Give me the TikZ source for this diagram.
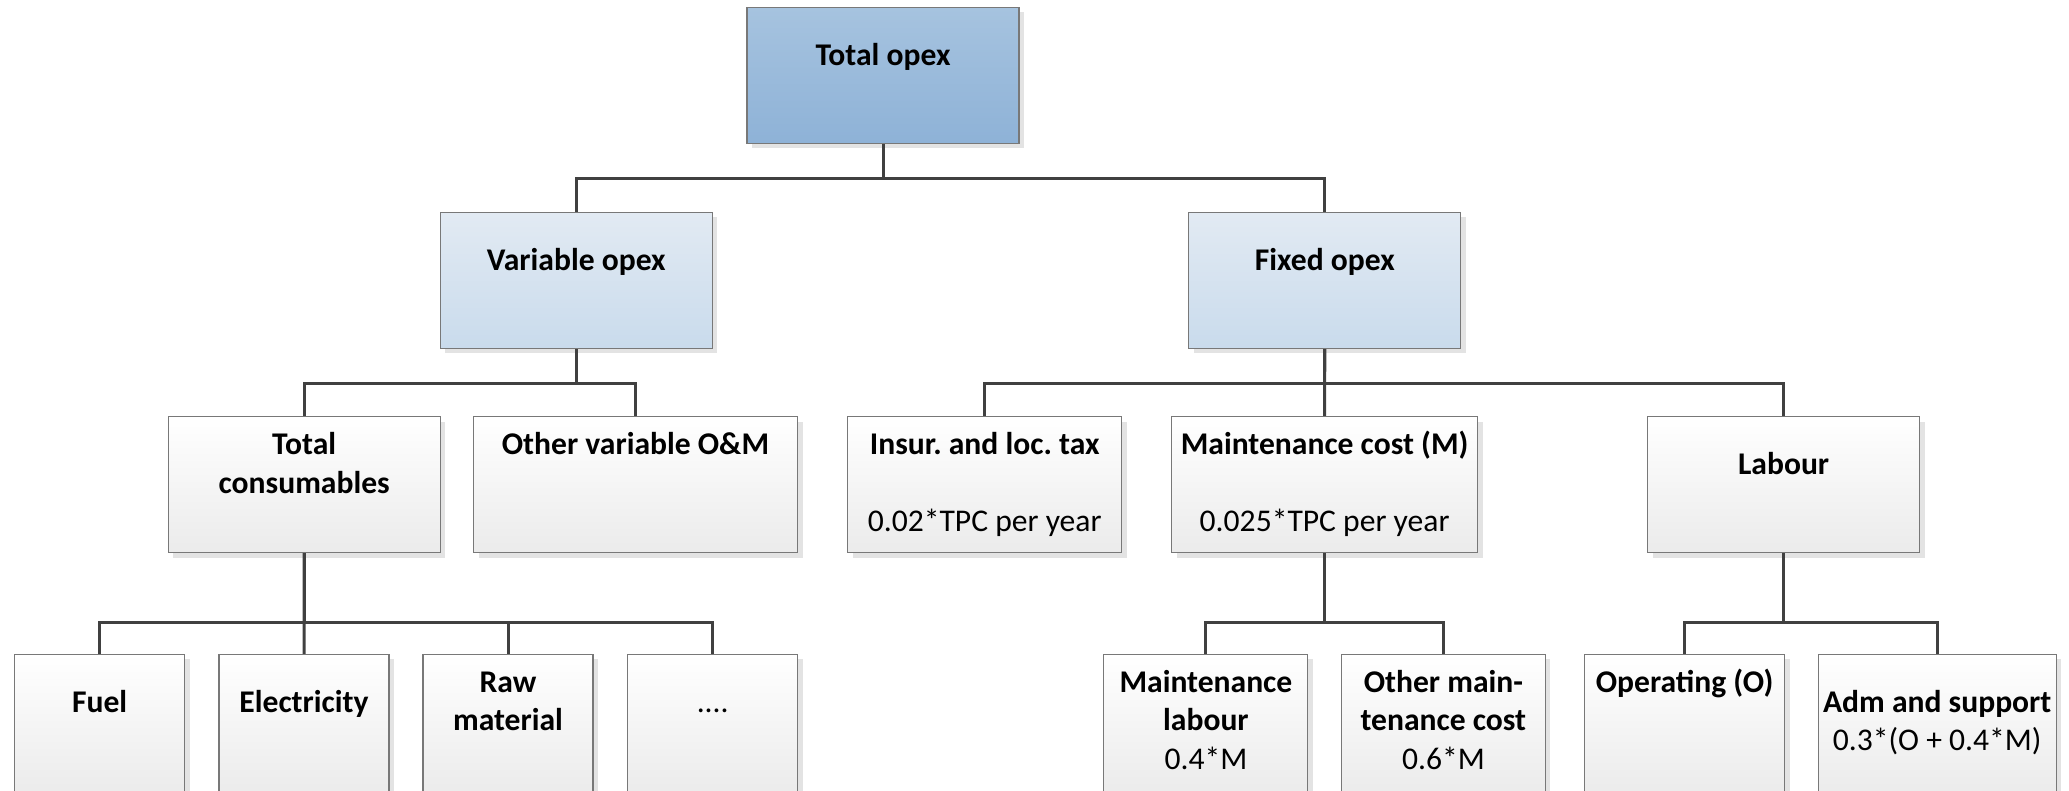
\documentclass[tikz,border=0pt]{standalone}
\usepackage{fontspec}
\setmainfont{Carlito}
\usepackage{tikz}
\usetikzlibrary{shadows}
\definecolor{linkgray}{RGB}{64,64,64}
\definecolor{framegray}{RGB}{120,120,120}
\definecolor{topA}{RGB}{166,195,223}
\definecolor{topB}{RGB}{142,178,215}
\definecolor{subA}{RGB}{226,234,243}
\definecolor{subB}{RGB}{201,219,236}
\definecolor{itemB}{RGB}{235,235,235}
\tikzset{
  opx/.style={x=1pt, y=-1pt, font=\fontsize{31.6}{38.5}\selectfont\bfseries\frenchspacing},
  o box/.style={draw=framegray, line width=1.1pt, align=center, inner xsep=0pt, inner ysep=0pt,
                minimum width=272pt, text height=58pt, text depth=78pt,
                drop shadow={shadow xshift=5pt, shadow yshift=-5pt, fill=black!11, opacity=1}},
  o top/.style={o box, top color=topA, bottom color=topB},
  o sub/.style={o box, top color=subA, bottom color=subB},
  o item/.style={o box, top color=white, bottom color=itemB},
  o leaf/.style={o item, minimum width=170pt, text depth=82pt},
  % last baseline below the top edge, rest of the box below it
  o base/.style 2 args={text height=#1pt, text depth=#2pt},
  o link/.style={draw=linkgray, line width=3pt},
}

\begin{document}
\begin{tikzpicture}[opx]
\useasboundingbox (0, 0) rectangle (2069, 791);
% ---- level 1 ----
\node[o top] (t0) at (883, 75.5) {Total opex};
% ---- level 2 ----
\node[o sub] (v0) at (576.3, 280.5) {Variable opex};
\node[o sub] (f0) at (1324.8, 280.5) {Fixed opex};
\draw[o link] (t0.south) -- ++(0, 34) -| (v0.north); \draw[o link] (t0.south) -- ++(0, 34) -| (f0.north);
% ---- level 3, variable ----
\node[o item, o base={76.5}{59.5}] (v1) at (304.2, 484.5) {Total\\consumables};
\node[o item, o base={38}{98}, minimum width=324pt] (v2) at (635.5, 484.5) {Other variable O\&M};
\draw[o link] (v0.south) -- ++(0, 34) -| (v1.north); \draw[o link] (v0.south) -- ++(0, 34) -| (v2.north);
% ---- level 3, fixed ----
\node[o item, o base={115}{21}, minimum width=274pt] (f1) at (984.7, 484.5) {Insur. and loc. tax\\[38.5pt]{\mdseries 0.02*TPC per year}};
\node[o item, o base={115}{21}, minimum width=306pt] (f2) at (1324.6, 484.5) {Maintenance cost (M)\\[38.5pt]{\mdseries 0.025*TPC per year}};
\node[o item] (f3) at (1783.6, 484.5) {Labour};
\draw[o link] (f0.south) -- ++(0, 34) -| (f1.north); \draw[o link] (f0.south) -- (f2.north); \draw[o link] (f0.south) -- ++(0, 34) -| (f3.north);
% ---- level 4, consumables ----
\node[o leaf] (c1) at (99.6, 724.3) {Fuel};
\node[o leaf] (c2) at (304, 724.3) {Electricity};
\node[o leaf, o base={76.5}{63.5}] (c3) at (508, 724.3) {Raw\\material};
\node[o leaf] (c4) at (712.7, 724.3) {{\mdseries ....}};
\draw[o link] (v1.south) -- ++(0, 69) -| (c1.north); \draw[o link] (v1.south) -- (c2.north);
\draw[o link] (v1.south) -- ++(0, 69) -| (c3.north); \draw[o link] (v1.south) -- ++(0, 69) -| (c4.north);
% ---- level 4, maintenance ----
\node[o leaf, o base={115}{25}, minimum width=204pt] (m1) at (1205.9, 724.3) {Maintenance\\labour\\{\mdseries 0.4*M}};
\node[o leaf, o base={115}{25}, minimum width=204pt] (m2) at (1443.4, 724.3) {Other main-\\tenance cost\\{\mdseries 0.6*M}};
\draw[o link] (f2.south) -- ++(0, 69) -| (m1.north); \draw[o link] (f2.south) -- ++(0, 69) -| (m2.north);
% ---- level 4, labour ----
\node[o leaf, o base={38}{102}, minimum width=200pt] (l1) at (1684.7, 724.3) {Operating (O)};
\node[o leaf, o base={96.5}{43.5}, minimum width=238pt] (l2) at (1937.2, 724.3) {Adm and support\\{\mdseries 0.3*(O + 0.4*M)}};
\draw[o link] (f3.south) -- ++(0, 69) -| (l1.north); \draw[o link] (f3.south) -- ++(0, 69) -| (l2.north);
\end{tikzpicture}
\end{document}
